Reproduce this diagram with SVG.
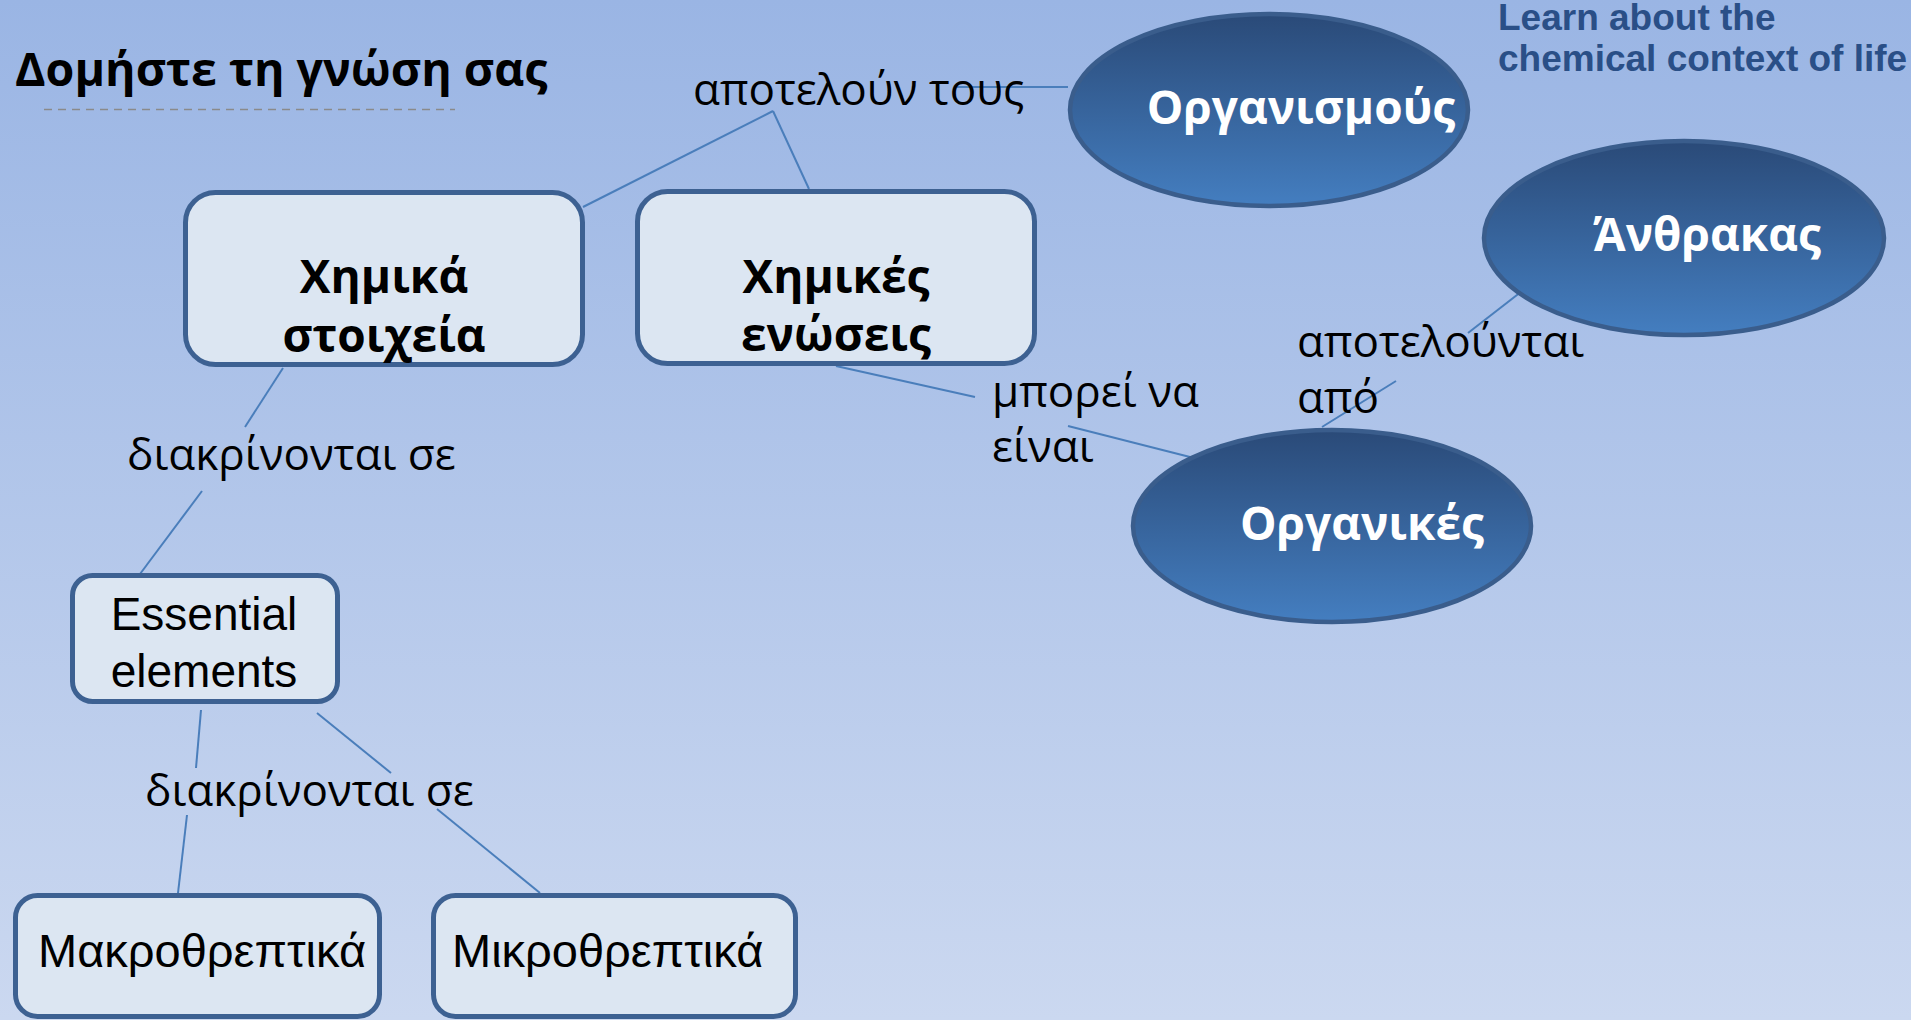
<svg xmlns="http://www.w3.org/2000/svg" width="1911" height="1020" viewBox="0 0 1911 1020">
<defs>
<linearGradient id="bg" x1="0" y1="0" x2="0" y2="1">
<stop offset="0" stop-color="#9ab5e4"/>
<stop offset="1" stop-color="#cbd8f0"/>
</linearGradient>
<linearGradient id="ov" x1="0" y1="0" x2="0" y2="1">
<stop offset="0" stop-color="#2a4a78"/>
<stop offset="1" stop-color="#447ec0"/>
</linearGradient>
<style>
.box{fill:#dce6f2;stroke:#3d6192;stroke-width:5}
.ell{fill:url(#ov);stroke:#3a5d8c;stroke-width:4.5}
.con line{stroke:#4a7ebb;stroke-width:2;fill:none}
.lbl{font-family:"Open Sans","Liberation Sans",sans-serif;font-size:44px;fill:#000}
.bt{font-family:"Open Sans","Liberation Sans",sans-serif;font-size:46px;font-weight:bold;fill:#000;text-anchor:middle}
.at{font-family:"Liberation Sans",Arial,sans-serif;font-size:46px;fill:#000}
.et{font-family:"Open Sans","Liberation Sans",sans-serif;font-size:46px;font-weight:bold;fill:#fff;text-anchor:middle}
</style>
</defs>
<rect width="1911" height="1020" fill="url(#bg)"/>
<g id="title">
<text x="15" y="86" style="font-family:'Open Sans','Liberation Sans',sans-serif;font-size:46.5px;font-weight:bold" fill="#000">Δομήστε τη γνώση σας</text>
<line x1="44" y1="109.5" x2="455" y2="109.5" stroke="#8a8a8a" stroke-width="1.5" stroke-dasharray="8 6"/>
</g>
<g id="subtitle" style="font-family:'Liberation Sans',Arial,sans-serif;font-size:37px;font-weight:bold" fill="#2a4f87">
<text x="1498" y="30">Learn about the</text>
<text x="1498" y="71">chemical context of life</text>
</g>
<g id="connectors" class="con">
<line x1="773" y1="111" x2="583" y2="207"/>
<line x1="773" y1="111" x2="809" y2="189"/>
<line x1="957" y1="87" x2="1068" y2="87"/>
<line x1="283" y1="368" x2="245" y2="427"/>
<line x1="202" y1="491" x2="140" y2="574"/>
<line x1="201" y1="710" x2="196" y2="768"/>
<line x1="187" y1="815" x2="178" y2="893"/>
<line x1="317" y1="713" x2="391" y2="773"/>
<line x1="437" y1="809" x2="540" y2="893"/>
<line x1="836" y1="366" x2="975" y2="397"/>
<line x1="1068" y1="426" x2="1190" y2="457"/>
<line x1="1396" y1="381" x2="1322" y2="427"/>
<line x1="1468" y1="333" x2="1535" y2="281"/>
</g>
<g id="labels">
<text class="lbl" x="693" y="105">αποτελούν τους</text>
<text class="lbl" x="127" y="470">διακρίνονται σε</text>
<text class="lbl" x="145" y="806">διακρίνονται σε</text>
<text class="lbl" x="992" y="407">μπορεί να</text>
<text class="lbl" x="992" y="462">είναι</text>
<text class="lbl" x="1297" y="357">αποτελούνται</text>
<text class="lbl" x="1297" y="413">από</text>
</g>
<g id="node-chimika-stoixeia">
<rect class="box" x="185.5" y="192.5" width="397" height="172" rx="30"/>
<text class="bt" x="384" y="293">Χημικά</text>
<text class="bt" x="384" y="352">στοιχεία</text>
</g>
<g id="node-chimikes-enoseis">
<rect class="box" x="637.5" y="191.5" width="397" height="172" rx="30"/>
<text class="bt" x="836" y="293">Χημικές</text>
<text class="bt" x="836" y="351">ενώσεις</text>
</g>
<g id="node-essential">
<rect class="box" x="72.5" y="575.5" width="265" height="126" rx="20"/>
<text class="at" x="204" y="630" text-anchor="middle">Essential</text>
<text class="at" x="204" y="687" text-anchor="middle">elements</text>
</g>
<g id="node-makro">
<rect class="box" x="15.5" y="895.5" width="364" height="121" rx="22"/>
<text class="at" x="38" y="967" style="font-size:47px">Μακροθρεπτικά</text>
</g>
<g id="node-mikro">
<rect class="box" x="433.5" y="895.5" width="362" height="121" rx="22"/>
<text class="at" x="452" y="967" style="font-size:47px">Μικροθρεπτικά</text>
</g>
<g id="node-organismous">
<ellipse class="ell" cx="1269" cy="110" rx="199" ry="96"/>
<text class="et" x="1301" y="124">Οργανισμούς</text>
</g>
<g id="node-anthrakas">
<ellipse class="ell" cx="1684" cy="238" rx="200" ry="97"/>
<text class="et" x="1707" y="251">Άνθρακας</text>
</g>
<g id="node-organikes">
<ellipse class="ell" cx="1332" cy="526" rx="199" ry="96"/>
<text class="et" x="1362" y="540">Οργανικές</text>
</g>
</svg>
